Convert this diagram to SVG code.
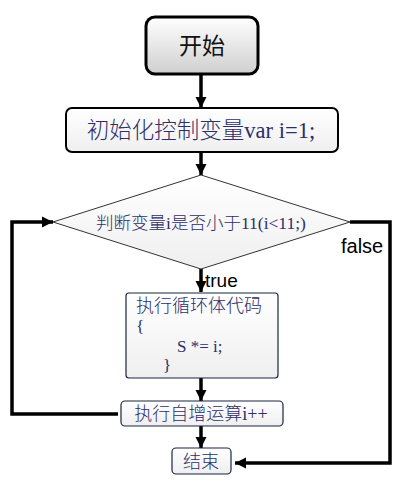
<svg xmlns="http://www.w3.org/2000/svg" width="400" height="491" viewBox="0 0 400 491">
<defs>
<linearGradient id="gStart" x1="0" y1="0" x2="0" y2="1">
<stop offset="0" stop-color="#ffffff"/><stop offset="1" stop-color="#cfcfcf"/>
</linearGradient>
<linearGradient id="gBox" x1="0" y1="0" x2="0" y2="1">
<stop offset="0" stop-color="#ffffff"/><stop offset="1" stop-color="#efefef"/>
</linearGradient>
<marker id="arr" viewBox="0 0 10 10" refX="10" refY="5" markerWidth="3.2" markerHeight="3.2" orient="auto" markerUnits="strokeWidth">
<path d="M0,0 L10,5 L0,10 Z" fill="#000"/>
</marker>
</defs>
<style>
.cn{font-family:"Liberation Serif","Noto Sans CJK SC",serif;fill:#2e2e6a;font-weight:300}
.lbl{font-family:"Liberation Sans","Noto Sans",sans-serif;fill:#000}
.box{fill:url(#gBox);stroke:#1a2540;stroke-width:1.2}
.conn{fill:none;stroke:#000;stroke-width:3.5}
</style>
<rect width="400" height="491" fill="#ffffff"/>
<g id="connectors">
<line class="conn" x1="201" y1="74" x2="201" y2="108" marker-end="url(#arr)"/>
<line class="conn" x1="201" y1="152" x2="201" y2="175" marker-end="url(#arr)"/>
<line class="conn" x1="201" y1="269" x2="201" y2="292" marker-end="url(#arr)"/>
<line class="conn" x1="201" y1="378" x2="201" y2="401" marker-end="url(#arr)"/>
<line class="conn" x1="201" y1="426" x2="201" y2="448" marker-end="url(#arr)"/>
<polyline class="conn" points="350,222 390,222 390,463 235,463" marker-end="url(#arr)"/>
<polyline class="conn" points="118,414 12,414 12,222 53,222" marker-end="url(#arr)"/>
<text class="lbl" x="341" y="253" font-size="20">false</text>
<text class="lbl" x="205" y="287" font-size="19">true</text>
</g>
<g id="start">
<rect x="146" y="17" width="112" height="57" rx="9" fill="url(#gStart)" stroke="#000" stroke-width="3"/>
<text x="202" y="54" font-size="23" text-anchor="middle" font-family="'Noto Sans CJK SC',sans-serif" fill="#111">开始</text>
</g>
<g id="init">
<rect x="66" y="108" width="272" height="44" rx="6" fill="url(#gBox)" stroke="#000" stroke-width="2"/>
<text class="cn" x="201" y="138" font-size="22.5" text-anchor="middle">初始化控制变量var i=1;</text>
</g>
<g id="cond">
<polygon points="201,175 350,222 201,269 53,222" fill="url(#gBox)" stroke="#333" stroke-width="1"/>
<text class="cn" x="201" y="229" font-size="17.5" text-anchor="middle">判断变量i是否小于11(i&lt;11;)</text>
</g>
<g id="body">
<rect x="126" y="293" width="152" height="85" rx="3" class="box"/>
<text class="cn" x="136" y="312" font-size="18">执行循环体代码</text>
<text class="cn" x="136" y="332" font-size="17">{</text>
<text class="cn" x="177" y="352" font-size="17">S *= i;</text>
<text class="cn" x="163" y="371" font-size="17">}</text>
</g>
<g id="incr">
<rect x="121" y="401" width="162" height="25" rx="4" class="box"/>
<text class="cn" x="201" y="420" font-size="18" text-anchor="middle">执行自增运算i++</text>
</g>
<g id="end">
<rect x="172" y="448" width="59" height="26" rx="4" class="box"/>
<text class="cn" x="201" y="468" font-size="18" text-anchor="middle">结束</text>
</g>
</svg>
